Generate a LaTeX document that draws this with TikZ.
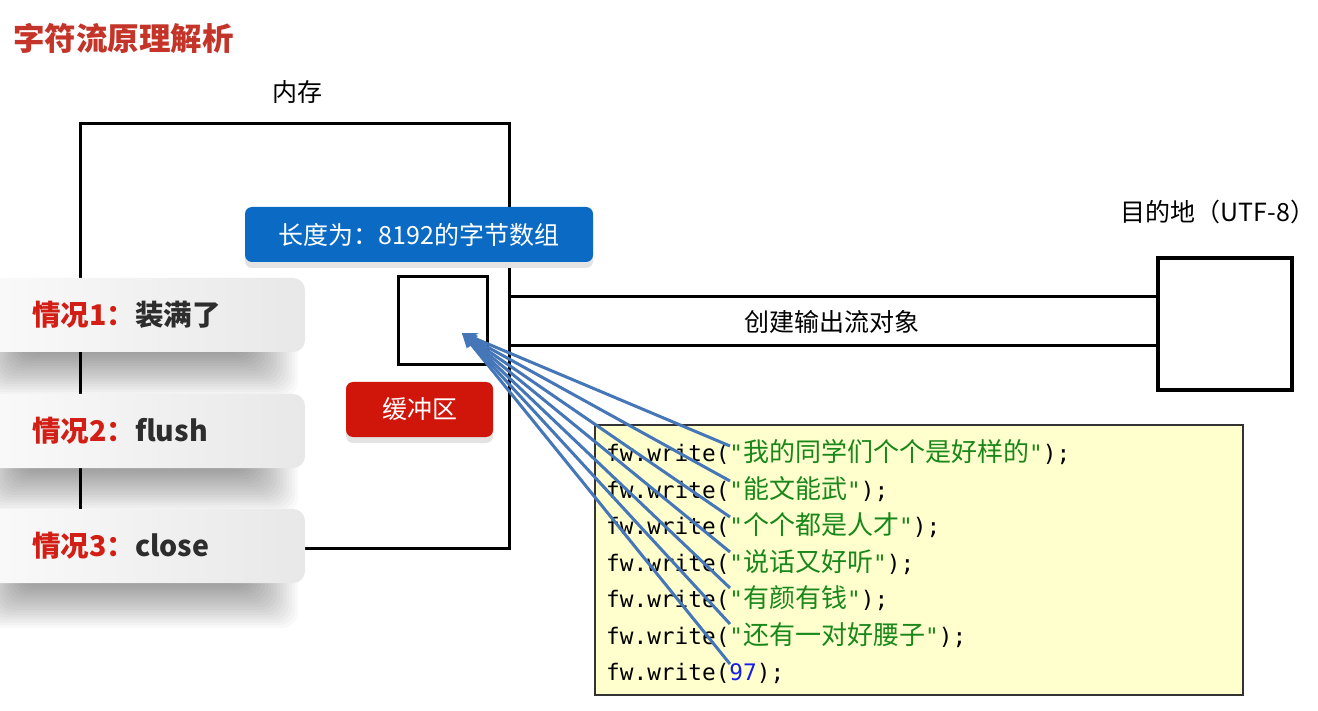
\documentclass[tikz,border=0pt]{standalone}
\usepackage{fontspec}
\newfontfamily\cjk{Noto Sans CJK SC}
\setmonofont{DejaVu Sans Mono}
\usetikzlibrary{arrows.meta}
\definecolor{titlered}{RGB}{196,52,40}
\definecolor{boxblue}{RGB}{10,106,196}
\definecolor{boxred}{RGB}{208,22,10}
\definecolor{casered}{RGB}{210,30,20}
\definecolor{casetext}{RGB}{45,45,45}
\definecolor{codebg}{RGB}{255,255,206}
\definecolor{codegreen}{RGB}{25,135,25}
\definecolor{codeblue}{RGB}{20,30,230}
\definecolor{arrowblue}{RGB}{68,118,184}
\newcommand\zh[1]{{\cjk\fontsize{26}{30}\selectfont #1}}
\newcommand\strg[1]{\textcolor{codegreen}{#1}}
\tikzset{
  label24/.style={font=\cjk\fontsize{25}{29}\selectfont, inner sep=0pt},
  frame/.style={draw=black, line width=3pt, inner sep=0pt},
  colbox/.style={rounded corners=7pt, inner sep=0pt, text=white, font=\cjk\fontsize{25}{29}\selectfont},
  casebox/.style={rounded corners=12pt, left color=gray!3, right color=gray!18, inner sep=0pt, minimum width=345pt, minimum height=74pt},
  casetextstyle/.style={anchor=west, inner sep=0pt, font=\cjk\bfseries\fontsize{28.5}{33}\selectfont},
  codetext/.style={anchor=west, inner sep=0pt, font=\ttfamily\fontsize{22.75}{28}\selectfont},
  arrowline/.style={draw=arrowblue, line width=3pt, -{Stealth[length=15pt,width=12pt]}},
}
\begin{document}
\begin{tikzpicture}[x=1pt,y=-1pt]
\useasboundingbox (0,0) rectangle (1318,711);
\fill[white] (0,0) rectangle (1318,711);

% title
\node[anchor=west, inner sep=0pt, text=titlered, font=\cjk\bfseries\fontsize{31.5}{36}\selectfont] (title) at (13,38) {字符流原理解析};

% memory
\node[label24] (memlabel) at (297,92) {内存};
\node[frame, minimum width=429pt, minimum height=424pt] (mem) at (294.5,336) {};

% blue box
\fill[gray!22, rounded corners=7pt] (245,214) rectangle (593,268);
\node[colbox, fill=boxblue, minimum width=348pt, minimum height=55pt] (arr) at (419,234.5) {长度为：8192的字节数组};

% buffer square
\node[frame, minimum width=89pt, minimum height=88pt] (buf) at (442.5,321) {};

% red box
\fill[gray!22, rounded corners=7pt] (346,388) rectangle (493,443);
\node[colbox, fill=boxred, minimum width=147pt, minimum height=55pt] (bufname) at (419.5,409.5) {缓冲区};

% destination
\node[label24] (destlabel) at (1218,212) {目的地（UTF-8）};
\node[frame, line width=3.5pt, minimum width=134pt, minimum height=132pt] (dest) at (1225,324) {};
\draw[line width=3pt] (mem.east |- 0,297) -- (dest.west |- 0,297);
\draw[line width=3pt] (mem.east |- 0,346) -- (dest.west |- 0,346);
\node[label24] (stream) at (832,322) {创建输出流对象};

% case boxes with soft shadows
\foreach \cy in {315,431,546} {
  \foreach \k in {0,...,17} {
    \fill[black, opacity=0.022, rounded corners=16pt] (-20+\k*2.5, \cy-20+\k) rectangle (298-\k*3, \cy+82-\k*2.6);
  }
}
\node[casebox] (c1) at (132.5,315) {};
\node[casebox] (c2) at (132.5,431) {};
\node[casebox] (c3) at (132.5,546) {};
\node[casetextstyle] (t1) at (32,315) {\textcolor{casered}{情况1：}\textcolor{casetext}{装满了}};
\node[casetextstyle] (t2) at (32,431) {\textcolor{casered}{情况2：}\textcolor{casetext}{flush}};
\node[casetextstyle] (t3) at (32,546) {\textcolor{casered}{情况3：}\textcolor{casetext}{close}};

% code box
\node[draw=black!80, line width=2pt, fill=codebg, minimum width=648pt, minimum height=270pt, inner sep=0pt] (code) at (919,560) {};
\node[codetext] (l1) at (606,452) {fw.write(\strg{"\zh{我的同学们个个是好样的}"});};
\node[codetext] (l2) at (606,489) {fw.write(\strg{"\zh{能文能武}"});};
\node[codetext] (l3) at (606,525) {fw.write(\strg{"\zh{个个都是人才}"});};
\node[codetext] (l4) at (606,562) {fw.write(\strg{"\zh{说话又好听}"});};
\node[codetext] (l5) at (606,598) {fw.write(\strg{"\zh{有颜有钱}"});};
\node[codetext] (l6) at (606,635) {fw.write(\strg{"\zh{还有一对好腰子}"});};
\node[codetext] (l7) at (606,673) {fw.write(\textcolor{codeblue}{97});};

% arrows
\coordinate (tip) at (462,333);
\coordinate (s1) at (730,446);
\coordinate (s2) at (730,481);
\coordinate (s3) at (730,517);
\coordinate (s4) at (730,552);
\coordinate (s5) at (730,588);
\coordinate (s6) at (730,624);
\coordinate (s7) at (730,664);
\foreach \s in {s1,s2,s3,s4,s5,s6,s7} {
  \draw[arrowline] (\s) -- (tip);
}
\end{tikzpicture}
\end{document}
